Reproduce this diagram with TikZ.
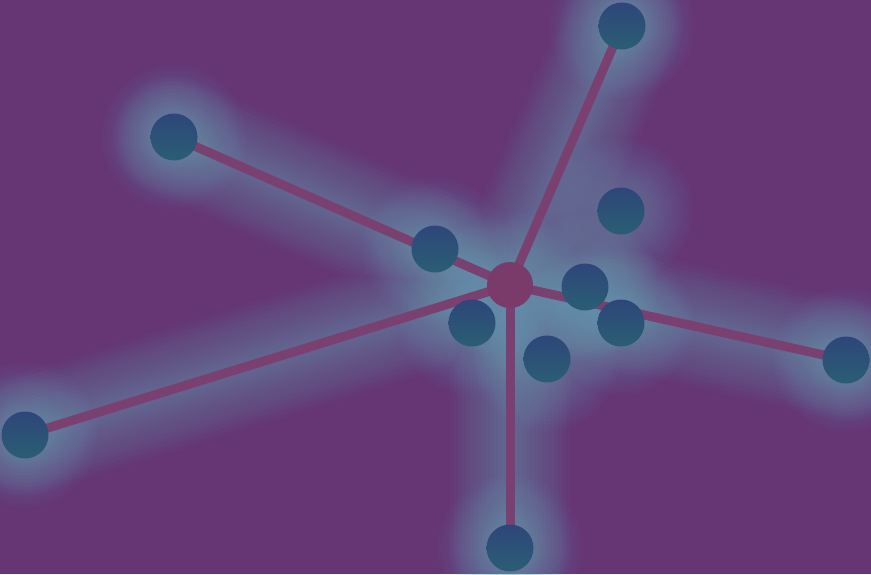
\documentclass[tikz,border=0pt]{standalone}
\usetikzlibrary{backgrounds}
\definecolor{bgc}{HTML}{663574}
\definecolor{glowc}{HTML}{62B8C6}
\definecolor{edgec}{HTML}{7A4070}
\definecolor{hubc}{HTML}{7A3A6A}
\definecolor{ntop}{HTML}{2E467A}
\definecolor{nbot}{HTML}{2A5E74}
\pgfdeclarelayer{glow}\pgfdeclarelayer{edges}
\pgfsetlayers{glow,edges,main}
\tikzset{
  dot/.style={circle,minimum size=47pt,inner sep=0pt,top color=ntop,bottom color=nbot,draw=none},
  hub/.style={circle,minimum size=46pt,inner sep=0pt,fill=hubc,draw=none},
  link/.style={draw=edgec,line width=9pt},
}
\begin{document}
\begin{tikzpicture}[x=1pt,y=-1pt]
\useasboundingbox (0,0) rectangle (871,574);
\node[hub] (c) at (510,285) {};
\node[dot] (t) at (622,26) {};
\node[dot] (ul) at (174,137) {};
\node[dot] (ml) at (435,249) {};
\node[dot] (l) at (25,435) {};
\node[dot] (b) at (510,548) {};
\node[dot] (r) at (846,360) {};
\node[dot] (i1) at (621,211) {};
\node[dot] (i2) at (585,287) {};
\node[dot] (i3) at (621,323) {};
\node[dot] (i4) at (472,323) {};
\node[dot] (i5) at (547,359) {};
\begin{pgfonlayer}{glow}
\fill[bgc] (0,0) rectangle (871,574);
\foreach \w in {120,112,...,14} {
  \draw[glowc,line width=\w pt,opacity=0.036,line cap=round]
    (c.center)--(t.center) (c.center)--(ul.center) (c.center)--(l.center)
    (c.center)--(b.center) (c.center)--(r.center);
  \foreach \n in {c,t,ul,ml,l,b,r,i1,i2,i3,i4,i5}
    \fill[glowc,opacity=0.03] (\n.center) circle[radius=20+\w/2.3];
}
\end{pgfonlayer}
\begin{pgfonlayer}{edges}
\draw[link] (c.center)--(t.center);
\draw[link] (c.center)--(ul.center);
\draw[link] (c.center)--(l.center);
\draw[link] (c.center)--(b.center);
\draw[link] (c.center)--(r.center);
\end{pgfonlayer}
\end{tikzpicture}
\end{document}
